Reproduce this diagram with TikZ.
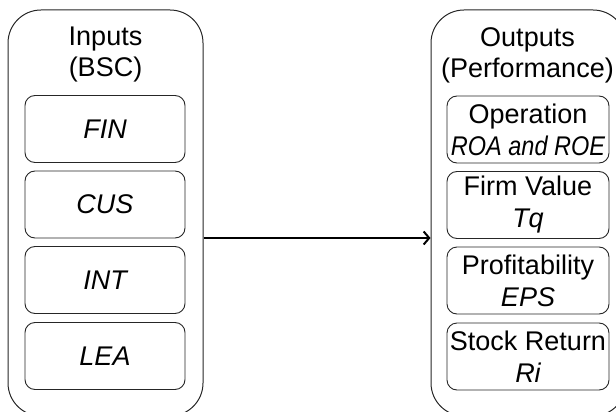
\documentclass[tikz,border=0pt]{standalone}
\usepackage{fontspec}
\setmainfont{Liberation Sans}
\usetikzlibrary{arrows.meta}
\begin{document}
\begin{tikzpicture}[x=1pt,y=-1pt,
  outer/.style={draw=black!85, line width=1pt, rounded corners=33pt,
    minimum width=195pt, minimum height=406pt, inner sep=0pt},
  inbox/.style={draw=black!85, line width=0.9pt, rounded corners=10pt,
    minimum width=161pt, minimum height=67pt, inner sep=0pt, align=center,
    font=\fontsize{27}{32}\selectfont},
  title/.style={align=center, inner sep=0pt, font=\fontsize{27}{31}\selectfont},
  link/.style={line width=2pt, -{Straight Barb[length=5.5pt,width=13pt]}}]
\useasboundingbox (0,0) rectangle (616,412);
\clip (0,0) rectangle (616,412);
% outer containers
\node[outer] (L) at (105.5,213) {};
\node[outer] (R) at (528.5,213) {};
% titles
\node[title] (LT) at (105.5,55) {Inputs\\(BSC)};
\node[title] (RT) at (527.5,55) {Outputs\\(Performance)};
% left inner boxes
\node[inbox, minimum width=160pt] (fin) at (105,129) {\itshape FIN};
\node[inbox, minimum width=160pt] (cus) at (105,204.5) {\itshape CUS};
\node[inbox, minimum width=160pt] (int) at (105,280) {\itshape INT};
\node[inbox, minimum width=160pt] (lea) at (105,356) {\itshape LEA};
% right inner boxes
\node[inbox, minimum width=162pt] (op) at (528,129.5) {Operation\\\scalebox{0.87}[1]{\itshape ROA and ROE}};
\node[inbox, minimum width=162pt] (fv) at (528,205) {Firm Value\\\itshape Tq};
\node[inbox, minimum width=162pt] (pr) at (528,280.5) {Profitability\\\itshape EPS};
\node[inbox, minimum width=162pt] (sr) at (528,356.5) {Stock Return\\\itshape Ri};
% connector
\coordinate (lev) at (0,238);
\draw[link] (L.east |- lev) -- (R.west |- lev);
\end{tikzpicture}
\end{document}
